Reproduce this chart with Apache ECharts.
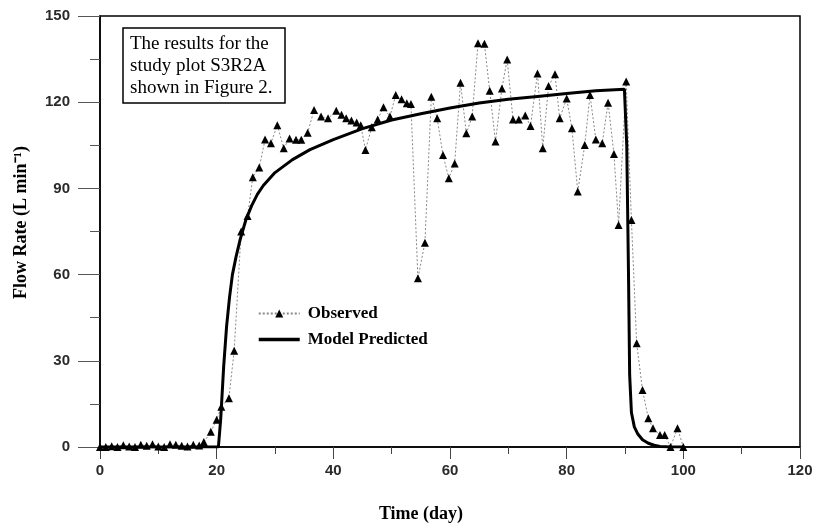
<!DOCTYPE html>
<html>
<head>
<meta charset="utf-8">
<script src="https://cdn.jsdelivr.net/npm/echarts@6/dist/echarts.min.js"></script>
<style>html,body{margin:0;padding:0;background:#fff}#c{width:817px;height:526px}</style>
</head>
<body>
<div id="c"></div>
<script>
// Observed flow rate (day, L/min)
var observedDays = [0,1,2,3,4,5,6,7,8,9,10,11,12,13,14,15,16,17,17.8,19,20,20.8,22.1,23,24.2,25.3,26.2,27.3,28.3,29.3,30.4,31.5,32.5,33.6,34.5,35.6,36.7,37.9,39.1,40.5,41.4,42.2,43.1,44,44.7,45.5,46.6,47.6,48.6,49.7,50.7,51.7,52.6,53.3,54.5,55.7,56.8,57.8,58.8,59.8,60.8,61.8,62.8,63.8,64.8,65.9,66.8,67.8,68.9,69.8,70.8,71.8,72.9,73.8,75,75.9,76.9,78,78.8,80,80.9,81.9,83.1,84,85,86.1,87.1,88.1,88.9,90.2,91.1,92,93,94,94.8,96,96.8,97.8,99,100];
var observedFlow = [0,0,0.3,0,0.6,0.2,0,0.8,0.4,1,0.2,0,1,0.8,0.4,0.2,0.8,0.5,1.7,5.3,9.5,14,17,33.5,75,80.4,93.9,97.3,107,105.7,112,104,107.4,106.9,106.9,109.4,117.3,115,114.4,117,115.6,114.4,113.6,112.9,112,103.4,111.3,114,118.2,115,122.5,121,119.6,119.4,58.7,71.1,121.9,114.4,101.6,93.5,98.7,126.8,109.2,115,140.5,140.3,124,106.3,124.8,134.9,114,114,115.4,111.7,130,104,125.6,129.7,114.4,121.3,110.9,88.9,105.1,122.5,107,105.7,119.8,102,77.3,127.2,79,36.1,19.8,10,6.5,4.2,4.2,0,6.5,0];
// Model predicted flow rate
var modelDays = [0,20.3,20.7,21.2,21.7,22.2,22.7,23.3,24,25,26,27,28,30,33,36,40,45,50,55,60,65,70,75,80,85,89.9,90.3,90.6,90.8,91.1,91.6,92.2,93,94,95,96,98,100];
var modelFlow = [0,0,10,28,42,52,60,66,72,79,84,88,91,95.5,100,103.5,107,110.8,113.8,116,118,119.7,121,122,123,124,124.5,105,60,25,12,7,4.5,2.5,1.3,0.6,0.2,0,0];

var xTicks = {min:0, max:120, interval:20};
var yTicks = {min:0, max:150, interval:30};

function pairs(xs, ys){ return xs.map(function(x,i){ return [x, ys[i]]; }); }

var chart = echarts.init(document.getElementById('c'));
var tickLabel = {color:'#2a2a2a', fontFamily:'Liberation Sans', fontWeight:'bold', fontSize:15};
chart.setOption({
  animation:false,
  backgroundColor:'#fff',
  title:{
    text:'The results for the\nstudy plot S3R2A\nshown in Figure 2.',
    left:123, top:28,
    borderColor:'#000', borderWidth:1.5,
    padding:[5,13,4,7],
    textStyle:{fontFamily:'Liberation Serif', fontWeight:'normal', fontSize:19, lineHeight:22, color:'#000'}
  },
  legend:{
    orient:'vertical', left:252, top:300, itemGap:9, itemWidth:41, itemHeight:10,
    textStyle:{fontFamily:'Liberation Serif', fontWeight:'bold', fontSize:17, color:'#000', padding:[0,0,0,3]},
    data:[
      {name:'Observed'},
      {name:'Model Predicted', itemStyle:{opacity:0}, lineStyle:{width:3.5}}
    ]
  },
  grid:{left:100, right:17, top:16, bottom:79, show:true, borderColor:'#000', borderWidth:1.5, backgroundColor:'transparent', outerBoundsMode:'none', containLabel:false},
  xAxis:{
    type:'value', min:xTicks.min, max:xTicks.max, interval:xTicks.interval,
    name:'Time (day)', nameLocation:'middle', nameGap:58,
    nameTextStyle:{fontFamily:'Liberation Serif', fontWeight:'bold', fontSize:18, color:'#000', padding:[0,58,0,0]},
    axisLine:{show:true, lineStyle:{color:'#000', width:1.5}},
    axisTick:{show:true, inside:false, length:12, lineStyle:{color:'#444'}},
    minorTick:{show:true, splitNumber:2, length:7, lineStyle:{color:'#444'}},
    splitLine:{show:false},
    axisLabel:Object.assign({margin:16}, tickLabel)
  },
  yAxis:{
    type:'value', min:yTicks.min, max:yTicks.max, interval:yTicks.interval,
    name:'Flow Rate (L min\u207B\u00B9)', nameLocation:'middle', nameGap:70, nameRotate:90,
    nameTextStyle:{fontFamily:'Liberation Serif', fontWeight:'bold', fontSize:18, color:'#000', padding:[0,0,0,18]},
    axisLine:{show:true, lineStyle:{color:'#000', width:1.5}},
    axisTick:{show:true, inside:false, length:22, lineStyle:{color:'#555'}},
    minorTick:{show:true, splitNumber:2, length:10, lineStyle:{color:'#555'}},
    splitLine:{show:false},
    axisLabel:Object.assign({margin:30}, tickLabel)
  },
  series:[
    {
      name:'Observed', type:'line', data:pairs(observedDays, observedFlow),
      symbol:'triangle', symbolSize:8, showAllSymbol:true,
      lineStyle:{color:'#888', width:1, type:[2,2]},
      itemStyle:{color:'#000'},
      z:2
    },
    {
      name:'Model Predicted', type:'line', data:pairs(modelDays, modelFlow),
      symbol:'none', smooth:false,
      lineStyle:{color:'#000', width:3},
      itemStyle:{color:'#000'},
      z:3
    }
  ]
});
</script>
</body>
</html>
